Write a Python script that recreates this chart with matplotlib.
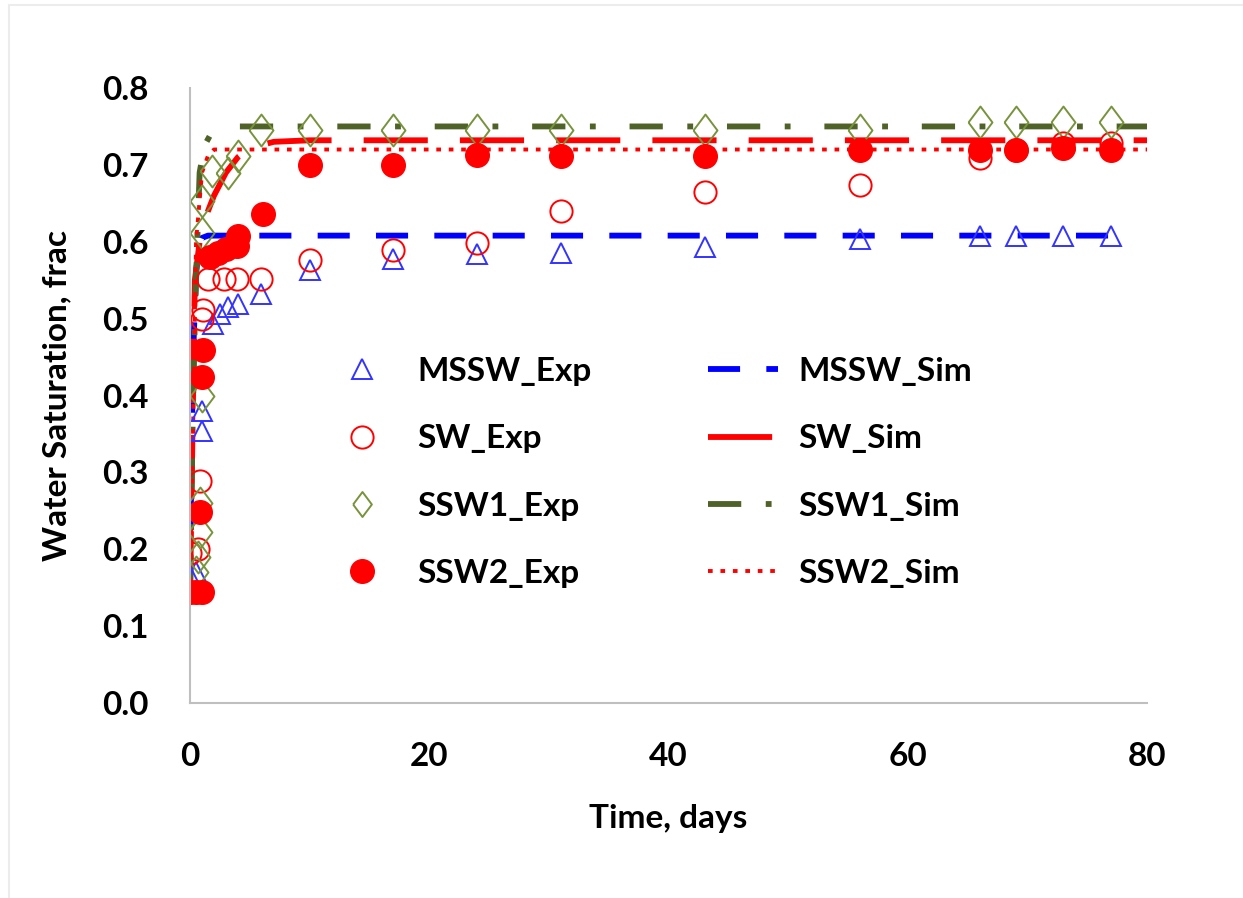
import matplotlib.pyplot as plt
from matplotlib.patches import Rectangle

plt.rcParams['font.family'] = ['Lato', 'DejaVu Sans']
plt.rcParams['font.weight'] = 'bold'
plt.rcParams['axes.labelweight'] = 'bold'

# experimental points (time in days, water saturation fraction)
mssw_exp_t = [0, 0.5, 1.0, 1.0, 1.9, 2.5, 3.2, 4.0, 5.9, 10, 17, 24, 31, 43, 56, 66, 69, 73, 77]
mssw_exp_s = [0.165, 0.17, 0.354, 0.38, 0.493, 0.506, 0.515, 0.519, 0.532, 0.563, 0.578,
              0.584, 0.586, 0.593, 0.604, 0.607, 0.607, 0.607, 0.607]

sw_exp_t = [0, 0.7, 0.85, 1.0, 1.1, 1.5, 2.8, 3.9, 5.9, 10, 17, 24, 31, 43, 56, 66, 69, 73, 77]
sw_exp_s = [0.195, 0.2, 0.289, 0.50, 0.511, 0.552, 0.552, 0.552, 0.552, 0.576, 0.589,
            0.599, 0.64, 0.665, 0.674, 0.709, 0.72, 0.728, 0.728]

ssw1_exp_t = [0.5, 0.7, 0.8, 0.8, 1.0, 1.0, 1.0, 1.8, 3.2, 4.0, 5.9, 10, 17, 24, 31, 43, 56,
              66, 69, 73, 77]
ssw1_exp_s = [0.17, 0.19, 0.223, 0.26, 0.40, 0.611, 0.653, 0.692, 0.69, 0.712, 0.745, 0.745,
              0.745, 0.745, 0.745, 0.745, 0.745, 0.756, 0.756, 0.756, 0.756]

ssw2_exp_t = [0, 0.5, 1.0, 0.8, 1.0, 1.1, 1.7, 2.3, 3.0, 3.9, 4.0, 6.1, 10, 17, 24, 31, 43,
              56, 66, 69, 73, 77]
ssw2_exp_s = [0.145, 0.145, 0.145, 0.249, 0.424, 0.459, 0.58, 0.585, 0.59, 0.595, 0.607,
              0.636, 0.70, 0.70, 0.713, 0.711, 0.711, 0.72, 0.72, 0.72, 0.722, 0.72]

# simulated curves
mssw_sim_t = [0, 0.1, 0.25, 0.5, 0.75, 1.0, 1.5, 77]
mssw_sim_s = [0.15, 0.3, 0.45, 0.56, 0.595, 0.605, 0.608, 0.608]

sw_sim_t = [0, 0.2, 0.4, 0.8, 1.5, 2, 3, 4, 5, 7, 10, 80]
sw_sim_s = [0.14, 0.35, 0.55, 0.6, 0.64, 0.66, 0.69, 0.71, 0.722, 0.73, 0.732, 0.732]

ssw1_sim_t = [0, 0.2, 0.4, 0.6, 0.8, 1.2, 1.8, 3, 80]
ssw1_sim_s = [0.15, 0.35, 0.5, 0.6, 0.69, 0.725, 0.742, 0.75, 0.75]

ssw2_sim_t = [0, 0.25, 0.5, 1.0, 1.5, 2, 80]
ssw2_sim_s = [0.14, 0.35, 0.6, 0.69, 0.712, 0.72, 0.72]

blue = '#0000ff'
red = '#ff0000'
olive = '#4f6228'
olive_light = '#77933c'

# slightly narrow diamond
diamond = [(-0.75, 0), (0, 1), (0.75, 0), (0, -1), (-0.75, 0)]

fig = plt.figure(figsize=(12.43, 8.98), dpi=100)
ax = fig.add_axes([0.1529, 0.2171, 0.770, 0.6849])

# faint frame round the chart area
fig.patches.append(Rectangle((0.007, -0.01), 1.0, 1.004, transform=fig.transFigure,
                             fill=False, edgecolor='#ececec', lw=1.5))

lw = 4.2
ax.plot(mssw_sim_t, mssw_sim_s, color=blue, lw=lw, dashes=(5.5, 4.5), label='MSSW_Sim')
ax.plot(sw_sim_t, sw_sim_s, color=red, lw=lw, dashes=(11, 5.5), label='SW_Sim')
ax.plot(ssw1_sim_t, ssw1_sim_s, color=olive, lw=lw, dashes=(5.7, 4.2, 1.0, 5.8), label='SSW1_Sim')
ax.plot(ssw2_sim_t, ssw2_sim_s, color=red, lw=2.8, dashes=(1.2, 2.0), label='SSW2_Sim')

ax.plot(mssw_exp_t, mssw_exp_s, ls='none', marker='^', ms=15, mfc='none', mec='#3333ff',
        mew=1.4, label='MSSW_Exp')
ax.plot(sw_exp_t, sw_exp_s, ls='none', marker='o', ms=16, mfc='none', mec=red,
        mew=1.4, label='SW_Exp')
ax.plot(ssw1_exp_t, ssw1_exp_s, ls='none', marker=diamond, ms=23, mfc='none', mec=olive_light,
        mew=1.4, label='SSW1_Exp')
ax.plot(ssw2_exp_t, ssw2_exp_s, ls='none', marker='o', ms=17, color=red, label='SSW2_Exp')

ax.set_xlim(0, 80)
ax.set_ylim(0, 0.8)
ax.set_xticks([0, 20, 40, 60, 80])
ax.set_yticks([0.0, 0.1, 0.2, 0.3, 0.4, 0.5, 0.6, 0.7, 0.8])
ax.set_yticklabels([f'{v:.1f}' for v in ax.get_yticks()])
ax.tick_params(axis='both', length=0, labelsize=24)
ax.tick_params(axis='y', pad=30)
ax.tick_params(axis='x', pad=28)
for side in ['top', 'right']:
    ax.spines[side].set_visible(False)
for side in ['left', 'bottom']:
    ax.spines[side].set_color('#bfbfbf')
    ax.spines[side].set_linewidth(1.5)

ax.set_xlabel('Time, days', fontsize=24, labelpad=24)
ax.set_ylabel('Water Saturation, frac', fontsize=24, labelpad=22)

# legend: exp markers in first column, sim lines in second
handles, labels = ax.get_legend_handles_labels()
order = [4, 5, 6, 7, 0, 1, 2, 3]
leg = ax.legend([handles[i] for i in order], [labels[i] for i in order], ncol=2,
                loc='upper left', bbox_to_anchor=(327 / 1243, 1 - 357 / 898),
                bbox_transform=fig.transFigure, frameon=False,
                prop={'size': 24, 'weight': 'bold'},
                handlelength=2.1, handletextpad=0.6, columnspacing=3.5, labelspacing=1.15,
                borderpad=0, borderaxespad=0)
leg.legend_handles[2].set_markersize(18)

fig.savefig('out.png', dpi=100)
